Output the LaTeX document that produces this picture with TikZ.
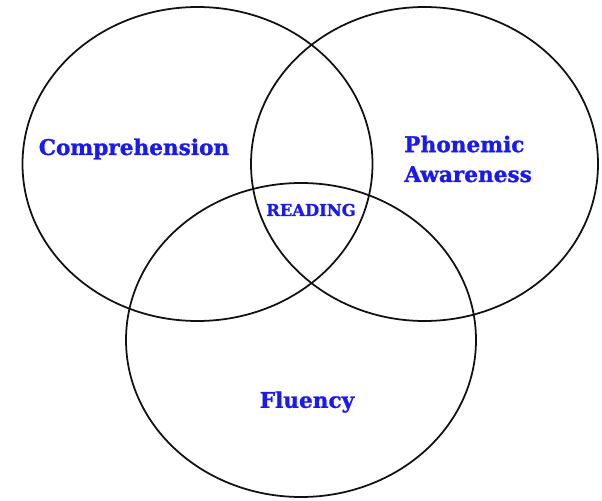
\documentclass[tikz,border=0pt]{standalone}
\usepackage{fontspec}
\setmainfont{DejaVu Serif}
\newfontfamily\heavyface{DejaVu Serif Bold}[FakeBold=1.2]
\usepackage{tikz}
\usetikzlibrary{positioning}
\definecolor{ink}{HTML}{111111}
\definecolor{area}{HTML}{1A1AF0}
\tikzset{
  set/.style={draw=ink,line width=1pt},
  tag/.style={text=area,font=\heavyface\fontsize{12.3}{17}\selectfont,inner sep=0pt,align=left},
  core/.style={text=area,font=\heavyface\fontsize{9.3}{10}\selectfont,inner sep=0pt},
}

\begin{document}
\begin{tikzpicture}
  \useasboundingbox (0,0) rectangle (12.04,-10.02);
  % the three sets
  \draw[set] (3.95,-3.28) ellipse (3.5 and 3.14);
  \draw[set] (8.49,-3.28) ellipse (3.47 and 3.14);
  \draw[set] (6.02,-6.80) ellipse (3.5 and 3.14);
  % labels
  \node[tag] (comp) at (2.68,-2.98) {Comprehension};
  \node[tag,anchor=west] (phon) at (8.08,-3.18) {Phonemic\\Awareness};
  \node[core] (read) at (6.22,-4.20) {READING};
  \node[tag] (flu) at (6.14,-8.04) {Fluency};
\end{tikzpicture}
\end{document}
